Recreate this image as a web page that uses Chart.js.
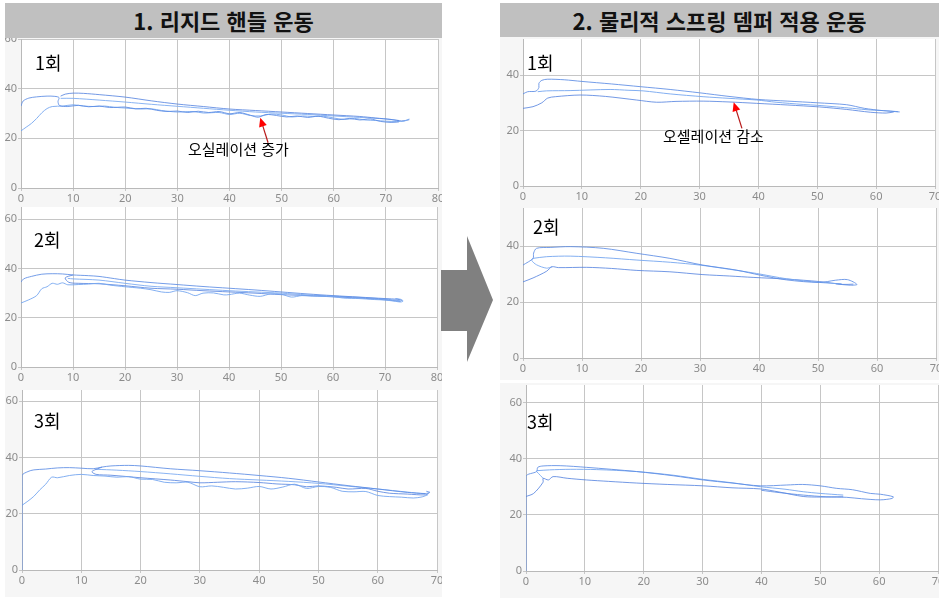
<!DOCTYPE html>
<html lang="ko">
<head>
<meta charset="utf-8">
<title>리지드 핸들 운동 / 물리적 스프링 뎀퍼 적용 운동</title>
<script src="https://cdn.jsdelivr.net/npm/chart.js@4.4.1/dist/chart.umd.min.js"></script>
<style>
  body { margin: 0; width: 939px; height: 600px; position: relative; background: #fff; overflow: hidden;
         font-family: "Noto Sans CJK KR", sans-serif; }
  .head { position: absolute; background: #c0c0c0; color: #111; font-weight: bold; font-size: 22px;
          text-align: center; z-index: 3; white-space: nowrap; }
  .panel { position: absolute; overflow: hidden; background: #f6f6f6; }
  .panel canvas { position: absolute; left: 0; }
  .run { position: absolute; font-size: 18px; line-height: 18px; color: #000; z-index: 2; }
  .note { position: absolute; font-size: 15px; line-height: 15px; color: #000; z-index: 2; white-space: nowrap; }
  #bigArrow { position: absolute; left: 0; top: 0; z-index: 4; }
</style>
</head>
<body>
<div class="head" style="left:5px;top:3px;width:437px;height:35px;line-height:35px">1. 리지드 핸들 운동</div>
<div class="head" style="left:500px;top:3px;width:439px;height:34px;line-height:34px">2. 물리적 스프링 뎀퍼 적용 운동</div>

<svg id="bigArrow" width="939" height="600">
  <polygon points="441,270 467,270 467,236 493,300 467,362 467,331 441,331" fill="#808080"/>
</svg>

<script>
// ---- data: trajectories (x, y) ----
const runLabels = ['1회', '2회', '3회'];
const noteLabels = ['오실레이션 증가', '오셀레이션 감소'];

// rigid handle, run 1
const rigid1A = [[0,33],[0.4,35],[1.5,36.2],[3,36.7],[5,37],[6.5,36.9],[7.3,36.4],[7.1,34.8],[7.4,33.2],[9,32.8],[11,33.3],[13,32.7],[15,33],[17,32.4],[20,32.6],[22,31.9],[24,32.1],[26,31.3],[28,30.8],[30,31],[32,30.4],[34,30.9],[36,30.4],[38,30.8],[40,29.9],[42,30.4],[44,29.3],[45.5,28.5],[47,29.6],[49,29.2],[51,28.6],[53,29],[55,28.4],[57,28.9],[59,28.1],[61,27.5],[63,28],[65,27.4],[67,27.8],[69,26.8],[71,26.4],[72.5,26.6]];
const rigid1B = [[0,23],[1,24.5],[2,26],[3,28],[4,30.3],[5,32],[6,32.8],[8,33],[10,33.5],[12,33],[14,32.8],[16,33],[18,32.5],[20,32.2],[23,31.8],[25,31.9],[27,31.2],[30,30.6],[33,30.8],[35,30.2],[38,30.4],[40,29.6],[42,30.1],[44,29.2],[46,29],[48,29.8],[50,29.4],[52,28.6],[54,29],[56,28.8],[58,28.9],[60,28.2],[62,27.6],[64,28],[66,27.4],[68,27.2],[70,26.9],[72,26.8],[73.5,26.9],[74.5,27.8]];
const rigid1C = [[74.5,27.5],[73,27],[71,27.6],[68,28.2],[65,28.8],[60,29.4],[55,30],[50,30.6],[45,31.2],[40,31.8],[35,32.8],[30,33.8],[25,35.1],[20,36.6],[15,37.6],[12,38.1],[10,38.2],[8.5,37.8],[7.6,37]];
const rigid1D = [[7.6,36.1],[10,36.1],[15,35.4],[20,34.6],[25,33.7],[30,32.9],[35,32.1],[40,31.3],[45,30.6],[50,30.1],[55,29.6],[60,29],[65,28.4],[70,27.8],[72.5,27.2]];

// rigid handle, run 2
const rigid2A = [[0,34.5],[0.5,35.8],[2,36.8],[4,37.7],[6,37.9],[8,37.8],[10,37.4],[13,37.1],[15,36.8],[18,35.9],[20,35.3],[25,34.3],[30,33.5],[35,32.7],[40,32],[45,31.3],[50,30.5],[55,29.7],[60,29],[65,28.4],[70,27.8],[72.5,27.5],[73.3,27]];
const rigid2B = [[0,26],[1.5,27.3],[3,29],[4,31.8],[5,32.6],[6,34],[7,33.6],[8,34.2],[9,33.4],[11,33.5],[13,33.7],[15,34],[17,33.3],[20,32.6],[23,32],[25,31.4],[27,30.5],[28.5,30.3],[30,31],[32,30.2],[33.5,29],[35,30],[37,30.1],[39,29.3],[40,29.4],[42,30],[44,29.2],[46,28.7],[48,29.7],[50,29.6],[52,28.4],[54,29],[56,28.8],[58,28.7],[60,28.6],[62,28],[65,27.8],[68,27.4],[70,27.2],[72,26.7],[73,26.4],[73.5,26.8],[73,27.5],[72,27.8]];
const rigid2C = [[10,37.4],[8.5,36.2],[9.2,34.4],[11,34],[15,33.8],[20,33],[25,32],[30,31.6],[35,31],[40,30.5],[45,30],[50,29.4],[55,29],[60,28.5],[65,28],[70,27.3],[73,26.6]];
const rigid2D = [[9,36],[10,35.8],[15,35.3],[20,34],[25,32.8],[30,32.2],[35,31.6],[40,31],[45,30.5],[50,30],[55,29.3],[60,28.8],[65,28.3],[70,27.6],[73,26.9]];

// rigid handle, run 3
const rigid3A = [[0,0],[0,33.5],[1,35],[2,35.6],[4,35.9],[6,36.3],[8,36.4],[10,36.2],[12,36],[13.5,36.6],[15,37],[18,37.2],[20,37],[25,36],[30,35.3],[35,34.5],[40,33.6],[45,32.6],[50,31.3],[55,30],[60,28.8],[65,27.6],[68,27.2],[68.8,27.6],[68.2,28]];
const rigid3B = [[0,23],[1,24.5],[2,26.2],[3,28.5],[4,30.5],[5,33],[6,32.8],[8,33.6],[10,34],[12,33.6],[14,33.4],[16,33],[18,33.2],[20,32.3],[22,32.2],[24,31.2],[26,31],[28,31.2],[30,29.6],[32,29.9],[34,29.4],[36,28.8],[38,29.1],[40,29.7],[42,28.8],[44,29.5],[46,30.5],[48,29],[50,29.7],[52,29.4],[54,28],[56,27.8],[58,27.9],[60,26.5],[62,26.1],[64,25.9],[66,25.6],[67.5,26],[68.5,26.8]];
const rigid3C = [[13.5,36.6],[11.8,35],[12.5,34],[15,33.7],[20,32.8],[25,32],[28,31.4],[30,31],[33,31.2],[36,31.4],[40,31.1],[43,30.6],[46,30.3],[48,29.6],[50,29.9],[53,29.4],[55,28.8],[58,29],[60,28],[62,27.3],[65,27],[68,26.7],[68.6,27.3]];
const rigid3D = [[12.5,35.8],[16,35.5],[20,35],[25,34.2],[30,33.3],[35,32.5],[40,32],[45,31.5],[50,30.8],[55,29.8],[60,28.8],[65,27.7],[68,27.1]];

// spring damper, run 1
const damper1A = [[0,33.2],[0.8,34],[2.2,34.2],[2.7,35.5],[2.7,37],[3.2,38.1],[4.2,38.5],[7,38.3],[10,37.7],[15,36.8],[20,35.8],[25,34.8],[30,33.6],[35,32.3],[40,31.2],[45,30.6],[50,30],[55,29.3],[58,28],[61,27.2],[64,26.7]];
const damper1B = [[2.5,34],[4,34.3],[8,34.4],[14.8,34.8],[18,34.5],[20.4,34.3],[25,33.2],[30.6,32.2],[35,31.6],[39.7,31],[43,30.2],[47.6,29.4],[50,29.1],[53.3,28.5],[56,28],[59,27.4],[62,27.1],[63.7,26.8]];
const damper1C = [[0,28],[1.7,28.6],[3.2,30],[4.2,31.7],[5.5,32.2],[9.7,32.8],[14,32.3],[19.3,31],[22.7,30.2],[26,30.5],[30.6,30.6],[35,30.3],[39.7,29.8],[45,29.2],[50.4,28.5],[55,27.6],[59,26.6],[61.7,26.3],[63,26.7]];

// spring damper, run 2
const damper2A = [[0,33.2],[1.7,35.6],[1.8,37.5],[2.3,39.2],[4.6,39.5],[8,39.8],[13.6,39.2],[19.3,37.4],[24.9,35.6],[30.5,33.2],[36.2,31.4],[40.2,29.6],[44.7,27.9],[50.3,27],[53,27.8],[55,28],[56.6,26.3],[55.5,26],[53,26.5]];
const damper2B = [[1.7,35.6],[4,36.2],[8,36.4],[14,35.8],[19.3,35],[25,34.2],[30,33.2],[35,31.7],[39.6,30.2],[44.7,28.3],[50.3,27],[54,26.5]];
const damper2C = [[0,27.2],[1.7,28.6],[4,31],[4.9,32.6],[6,32.3],[10.8,32.4],[15,32],[19.3,31.3],[24.9,30.8],[30.5,29.8],[35,29.3],[39,28.8],[44.7,28.2],[50.3,27.3],[54.2,26.3],[56,26.4]];
const damper2D = [[1.7,35.6],[1.5,34.8],[2.3,33.3],[4,32.1],[4.9,32.6]];

// spring damper, run 3
const damper3A = [[0,0],[0,33.7],[1.8,35.5],[2,37],[2.9,37.5],[5.8,37.6],[10.3,37],[18.8,35.5],[25,34],[30.1,32.5],[35,31.4],[39.8,30.4],[44.3,30.7],[47,30.9],[50,30.4],[52.8,29.5],[55.5,29],[58.5,27.7],[60.2,27.4],[62.4,26.5],[62.2,25.9],[60.2,25.4],[57,25.8],[54.5,26.3],[51,26.5],[47.1,27.1],[43,28],[40,28.8]];
const damper3B = [[1.8,35.8],[4,36.1],[7.5,36.3],[12,36.2],[18.8,35.5],[25,34.2],[30.1,32.7],[35,31.5],[39.8,30.1],[44,29.2],[47.1,28.3],[50,27.7],[53.9,27.1]];
const damper3C = [[0,26.6],[1.3,27.7],[2.9,31.7],[2.9,33.1],[3.8,32.5],[4.6,33.7],[7,33.1],[10.3,32.5],[14,32],[18.8,31.4],[24,30.9],[30.1,30.4],[35,29.7],[39.8,29.3],[43,28.2],[47.1,26.6],[50,26.4],[53.9,26.5]];
const damper3D = [[1.8,35.5],[2.5,34],[2.9,33.1]];

// red arrows of the notes: [tip, tail] in data units
const rigidNote = [[45.9, 28.3], [47.4, 18.2]];
const damperNote = [[35.8, 30.2], [37.2, 20.8]];

// ---- layout ----
const M = 20; // canvas overhang, clipped by the panel
const lineColors = ['rgba(92,140,228,0.85)', 'rgba(118,166,240,0.9)', 'rgba(80,128,222,0.8)', 'rgba(125,172,242,0.9)'];

const panels = [
  { box: [5, 38, 442, 205],   area: [21, 39, 438, 188],  xMax: 80, yMax: 60,   paths: [rigid1A, rigid1B, rigid1C, rigid1D], run: 0, runPos: [35, 53], note: rigidNote, notePos: [188, 141], noteIdx: 0 },
  { box: [5, 205, 442, 385],  area: [21, 207, 437, 367], xMax: 80, yMax: 65,   paths: [rigid2A, rigid2B, rigid2C, rigid2D], run: 1, runPos: [34, 230] },
  { box: [5, 385, 442, 597],  area: [22, 390, 437, 570], xMax: 70, yMax: 64,   paths: [rigid3A, rigid3B, rigid3C, rigid3D], run: 2, runPos: [34, 411] },
  { box: [500, 37, 939, 205], area: [523, 39, 935, 186], xMax: 70, yMax: 53,   paths: [damper1A, damper1B, damper1C], run: 0, runPos: [527, 53], note: damperNote, notePos: [663, 128], noteIdx: 1 },
  { box: [500, 205, 939, 380],area: [523, 208, 936, 358],xMax: 70, yMax: 53.6, paths: [damper2A, damper2B, damper2C, damper2D], run: 1, runPos: [533, 217] },
  { box: [500, 383, 939, 598],area: [526, 385, 938, 571],xMax: 70, yMax: 66.4, paths: [damper3A, damper3B, damper3C, damper3D], run: 2, runPos: [527, 412] }
];

const tickFont = { family: '"Noto Sans", sans-serif', size: 11 };

const whiteArea = {
  id: 'whiteArea',
  beforeDraw(chart) {
    const a = chart.chartArea;
    chart.ctx.save();
    chart.ctx.fillStyle = '#fff';
    chart.ctx.fillRect(a.left, a.top, a.right - a.left, a.bottom - a.top);
    chart.ctx.restore();
  }
};

const noteArrow = {
  id: 'noteArrow',
  afterDatasetsDraw(chart, args, opts) {
    const { x, y } = chart.scales;
    const tx = x.getPixelForValue(opts.tip[0]), ty = y.getPixelForValue(opts.tip[1]);
    const sx = x.getPixelForValue(opts.tail[0]), sy = y.getPixelForValue(opts.tail[1]);
    const ang = Math.atan2(ty - sy, tx - sx);
    const c = Math.cos(ang), s = Math.sin(ang);
    const ctx = chart.ctx;
    ctx.save();
    ctx.strokeStyle = '#b81c1c';
    ctx.lineWidth = 1.2;
    ctx.beginPath();
    ctx.moveTo(sx, sy);
    ctx.lineTo(tx - 7 * c, ty - 7 * s);
    ctx.stroke();
    ctx.fillStyle = '#ff0000';
    ctx.beginPath();
    ctx.moveTo(tx, ty);
    ctx.lineTo(tx - 9 * c + 4 * s, ty - 9 * s - 4 * c);
    ctx.lineTo(tx - 9 * c - 4 * s, ty - 9 * s + 4 * c);
    ctx.closePath();
    ctx.fill();
    ctx.restore();
  }
};

function addText(cls, text, pos) {
  const d = document.createElement('div');
  d.className = cls;
  d.textContent = text;
  d.style.left = pos[0] + 'px';
  d.style.top = pos[1] + 'px';
  document.body.appendChild(d);
}

function makeChart(p) {
  const [bl, bt, br, bb] = p.box;
  const [al, at, ar, ab] = p.area;
  const wrap = document.createElement('div');
  wrap.className = 'panel';
  wrap.style.left = bl + 'px';
  wrap.style.top = bt + 'px';
  wrap.style.width = (br - bl) + 'px';
  wrap.style.height = (bb - bt) + 'px';
  const canvas = document.createElement('canvas');
  const cw = br - bl + M, ch = bb - bt + M;
  canvas.width = cw;
  canvas.height = ch;
  canvas.style.width = cw + 'px';
  canvas.style.height = ch + 'px';
  canvas.style.top = -M + 'px';
  wrap.appendChild(canvas);
  document.body.appendChild(wrap);

  const grid = { color: '#c6c6c6', tickLength: 3 };
  const border = { color: '#b9b9b9' };
  const plugins = [whiteArea];
  if (p.note) plugins.push(noteArrow);

  new Chart(canvas, {
    type: 'scatter',
    data: {
      datasets: p.paths.map((path, i) => ({
        data: path.map(([x, y]) => ({ x, y })),
        showLine: true,
        pointRadius: 0,
        borderWidth: 1,
        tension: 0.3,
        borderColor: lineColors[i % lineColors.length]
      }))
    },
    options: {
      responsive: false,
      animation: false,
      devicePixelRatio: 1,
      layout: { padding: { top: at - bt + M, right: br + M - ar, left: 0, bottom: 0 } },
      plugins: {
        legend: { display: false },
        tooltip: { enabled: false },
        noteArrow: p.note ? { tip: p.note[0], tail: p.note[1] } : {}
      },
      scales: {
        x: {
          type: 'linear', min: 0, max: p.xMax,
          afterFit: (s) => { s.height = bb - ab; },
          ticks: { stepSize: 10, padding: 1, color: '#8c8c8c', font: tickFont, maxRotation: 0, autoSkip: false },
          grid, border
        },
        y: {
          type: 'linear', min: 0, max: p.yMax,
          afterFit: (s) => { s.width = al - bl; },
          ticks: { stepSize: 20, includeBounds: false, padding: 1, color: '#8c8c8c', font: tickFont },
          grid, border
        }
      }
    },
    plugins
  });

  addText('run', runLabels[p.run], p.runPos);
  if (p.note) addText('note', noteLabels[p.noteIdx], p.notePos);
}

panels.forEach(makeChart);
</script>
</body>
</html>
